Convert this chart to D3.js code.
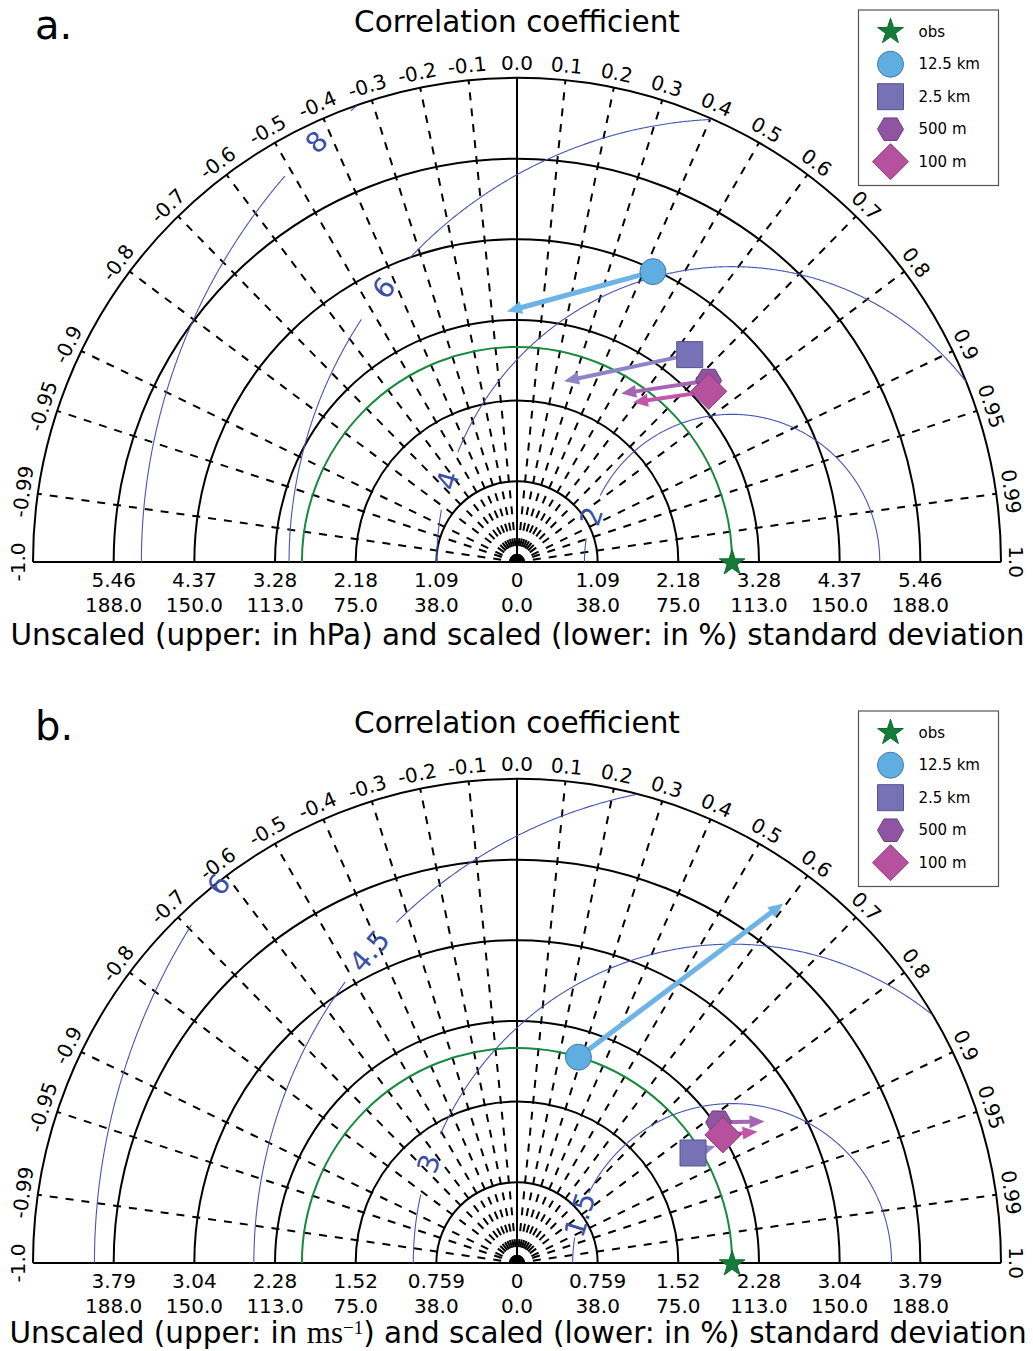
<!DOCTYPE html>
<html>
<head>
<meta charset="utf-8">
<script src="https://cdn.jsdelivr.net/npm/d3@7"></script>
<style>
  body { margin: 0; background: #fff; }
  text { font-family: "DejaVu Sans", sans-serif; }
</style>
</head>
<body>
<div id="chart"></div>
<script>
const W = 1033, H = 1351;

// correlation grid (shared by both panels)
const corrTicks = [-1.0, -0.99, -0.95, -0.9, -0.8, -0.7, -0.6, -0.5, -0.4, -0.3, -0.2, -0.1,
  0.0, 0.1, 0.2, 0.3, 0.4, 0.5, 0.6, 0.7, 0.8, 0.9, 0.95, 0.99, 1.0];
const corrLabels = ["-1.0", "-0.99", "-0.95", "-0.9", "-0.8", "-0.7", "-0.6", "-0.5", "-0.4", "-0.3", "-0.2", "-0.1",
  "0.0", "0.1", "0.2", "0.3", "0.4", "0.5", "0.6", "0.7", "0.8", "0.9", "0.95", "0.99", "1.0"];
const pctLabels = ["38.0", "75.0", "113.0", "150.0", "188.0"];

const models = ["12.5 km", "2.5 km", "500 m", "100 m"];
const shapes = ["circle", "square", "hexagon", "diamond"];
const fillColors = ["#5fade1", "#7772b5", "#8f55a3", "#b5519f"];
const edgeColors = ["#3f7ba6", "#57528f", "#6c3d7e", "#8a3a78"];
const arrowColors = ["#6bb4e5", "#8b85c7", "#a565b4", "#c257aa"];

// panel a: surface pressure (hPa)
const stdTicksA = [1.0925, 2.185, 3.2775, 4.37, 5.4625];
const stdLabelsA = ["1.09", "2.18", "3.28", "4.37", "5.46"];
const stdMaxA = 6.555;
const obsStdA = 2.913;
const stdA = [4.342, 3.655, 3.574, 3.476];
const corrA = [0.424, 0.640, 0.726, 0.747];
const stdEndA = [3.396, 2.529, 2.682, 2.672];
const corrEndA = [-0.040, 0.252, 0.526, 0.588];
const rmsLevelsA = [2, 4, 6, 8];

// panel b: wind speed (m/s)
const stdTicksB = [0.759, 1.518, 2.277, 3.036, 3.795];
const stdLabelsB = ["0.759", "1.52", "2.28", "3.04", "3.79"];
const stdMaxB = 4.554;
const obsStdB = 2.024;
const stdB = [2.021, 1.953, 2.314, 2.281];
const corrB = [0.286, 0.848, 0.820, 0.849];
const stdEndB = [4.209, 2.165, 2.683, 2.579];
const corrEndB = [0.595, 0.862, 0.868, 0.878];
const rmsLevelsB = [1.5, 3, 4.5, 6];

const R = 484, cx = 517;

const svg = d3.select("#chart").append("svg")
  .attr("width", W)
  .attr("height", H);

function markerPath(shape) {
  const p = d3.path();
  if (shape === "circle") {
    p.arc(0, 0, 13, 0, 2 * Math.PI);
  } else if (shape === "square") {
    p.rect(-13, -13, 26, 26);
  } else if (shape === "hexagon") {
    for (let i = 0; i < 6; i++) {
      const a = i * Math.PI / 3;
      i ? p.lineTo(13 * Math.cos(a), 13 * Math.sin(a)) : p.moveTo(13, 0);
    }
    p.closePath();
  } else if (shape === "diamond") {
    p.moveTo(0, -18); p.lineTo(18, 0); p.lineTo(0, 18); p.lineTo(-18, 0); p.closePath();
  } else if (shape === "star") {
    for (let i = 0; i < 10; i++) {
      const rr = i % 2 ? 5.2 : 13.5;
      const a = -Math.PI / 2 + i * Math.PI / 5;
      i ? p.lineTo(rr * Math.cos(a), rr * Math.sin(a)) : p.moveTo(rr * Math.cos(a), rr * Math.sin(a));
    }
    p.closePath();
  }
  return p.toString();
}

function arrowPath(p0, p1, w, hw, hl) {
  const dx = p1[0] - p0[0], dy = p1[1] - p0[1], L = Math.hypot(dx, dy);
  const ux = dx / L, uy = dy / L, nx = -uy, ny = ux;
  const b = [p1[0] - ux * hl, p1[1] - uy * hl];
  const pts = [
    [p0[0] + nx * w / 2, p0[1] + ny * w / 2],
    [b[0] + nx * w / 2, b[1] + ny * w / 2],
    [b[0] + nx * hw / 2, b[1] + ny * hw / 2],
    p1,
    [b[0] - nx * hw / 2, b[1] - ny * hw / 2],
    [b[0] - nx * w / 2, b[1] - ny * w / 2],
    [p0[0] - nx * w / 2, p0[1] - ny * w / 2]];
  return "M" + pts.map(p => p.join(",")).join("L") + "Z";
}

function drawPanel(cfg) {
  const g = svg.append("g").attr("transform", `translate(${cx},${cfg.cy})`);
  const r = d3.scaleLinear().domain([0, cfg.stdMax]).range([0, R]);
  const pt = (s, c) => {
    const a = Math.acos(c);
    return [r(s) * Math.cos(a), -r(s) * Math.sin(a)];
  };

  // std arcs
  const arcs = cfg.stdTicks.map(t => r(t)).concat([R]);
  g.selectAll(".sarc").data(arcs).enter().append("path")
    .attr("d", d => { const p = d3.path(); p.arc(0, 0, d, Math.PI, 2 * Math.PI); return p.toString(); })
    .attr("fill", "none").attr("stroke", "#000").attr("stroke-width", 2);

  // correlation rays
  g.selectAll(".ray").data(corrTicks.filter(c => Math.abs(c) < 1)).enter().append("line")
    .attr("x1", 0).attr("y1", 0)
    .attr("x2", d => pt(cfg.stdMax, d)[0])
    .attr("y2", d => pt(cfg.stdMax, d)[1])
    .attr("stroke", "#000")
    .attr("stroke-width", 2)
    .attr("stroke-dasharray", d => d === 0 ? null : "8,8");

  g.append("line").attr("x1", -R).attr("x2", R).attr("y1", 0).attr("y2", 0)
    .attr("stroke", "#000").attr("stroke-width", 2);

  // correlation labels
  g.selectAll(".clab").data(corrTicks).enter().append("text")
    .attr("transform", d => {
      const a = Math.acos(d);
      const x = (R + 15) * Math.cos(a), y = -(R + 15) * Math.sin(a);
      return `translate(${x},${y}) rotate(${90 - a * 180 / Math.PI})`;
    })
    .attr("text-anchor", "middle")
    .attr("dominant-baseline", "central")
    .attr("font-size", 20)
    .text((d, i) => corrLabels[i]);

  // std tick labels
  const ticks = [0].concat(cfg.stdTicks);
  const lab1 = ["0"].concat(cfg.stdLabels), lab2 = ["0.0"].concat(pctLabels);
  [-1, 1].forEach(sgn => {
    g.selectAll(null).data(ticks).enter().append("text")
      .filter((d, i) => sgn === 1 || i > 0)
      .attr("x", d => sgn * r(d)).attr("y", 25)
      .attr("text-anchor", "middle").attr("font-size", 20)
      .text(d => lab1[ticks.indexOf(d)]);
    g.selectAll(null).data(ticks).enter().append("text")
      .filter((d, i) => sgn === 1 || i > 0)
      .attr("x", d => sgn * r(d)).attr("y", 49.5)
      .attr("text-anchor", "middle").attr("font-size", 20)
      .text(d => lab2[ticks.indexOf(d)]);
  });

  // RMSD contours around the obs point
  const ox = r(cfg.obs);
  cfg.levels.forEach((L, k) => {
    const rl = r(L);
    const thL = cfg.labelAng[k] * Math.PI / 180;
    const half = (15 + 0.05 * rl) / rl;
    const pts = d3.range(0, 180.001, 0.2).map(deg => {
      const th = deg * Math.PI / 180;
      const x = ox + rl * Math.cos(th), y = -rl * Math.sin(th);
      const ok = Math.hypot(x, y) <= R && Math.abs(th - thL) > half;
      return [x, y, ok];
    });
    g.append("path")
      .attr("d", d3.line().defined(d => d[2])(pts))
      .attr("fill", "none").attr("stroke", "#4656b5").attr("stroke-width", 1.1);
    const lx = ox + rl * Math.cos(thL), ly = -rl * Math.sin(thL);
    const rot = cfg.labelAng[k] - 90;
    g.append("text")
      .attr("transform", `translate(${lx},${ly}) rotate(${-rot})`)
      .attr("text-anchor", "middle").attr("dominant-baseline", "central")
      .attr("font-size", 28).attr("fill", "#3c4fa6")
      .text(String(L));
  });

  // obs std arc
  g.append("path")
    .attr("d", () => { const p = d3.path(); p.arc(0, 0, ox, Math.PI, 2 * Math.PI); return p.toString(); })
    .attr("fill", "none").attr("stroke", "#168a3e").attr("stroke-width", 2);

  // arrows then markers
  models.forEach((m, i) => {
    const p0 = pt(cfg.std[i], cfg.corr[i]), p1 = pt(cfg.std2[i], cfg.corr2[i]);
    g.append("path").attr("d", arrowPath(p0, p1, i === 0 ? 5 : 4, 13, 15))
      .attr("fill", arrowColors[i]);
  });
  models.forEach((m, i) => {
    const p0 = pt(cfg.std[i], cfg.corr[i]);
    g.append("path").attr("d", markerPath(shapes[i]))
      .attr("transform", `translate(${p0[0]},${p0[1]})`)
      .attr("fill", fillColors[i]).attr("stroke", edgeColors[i]).attr("stroke-width", 1);
  });
  g.append("path").attr("d", markerPath("star"))
    .attr("transform", `translate(${ox},1)`)
    .attr("fill", "#137c38").attr("stroke", "#0e6a2f").attr("stroke-width", 1);

  // titles
  g.append("text").attr("x", 0).attr("y", 32 - 562).attr("text-anchor", "middle")
    .attr("font-size", 29.5).text("Correlation coefficient");
  g.append("text").attr("x", 35 - cx).attr("y", 39 - 562)
    .attr("font-size", 40).text(cfg.letter);

  const xl = g.append("text").attr("x", cfg.xlabX - cx).attr("y", cfg.xlabY)
    .attr("text-anchor", "middle").attr("font-size", 29.5);
  cfg.xlabel(xl);

  // legend
  const lg = g.append("g").attr("transform", `translate(${858.5 - cx},${10 - 562})`);
  lg.append("rect").attr("width", 140).attr("height", 175.5)
    .attr("fill", "#fff").attr("stroke", "#555").attr("stroke-width", 1.2);
  const entries = [{ name: "obs", shape: "star", fill: "#137c38", edge: "#0e6a2f" }]
    .concat(models.map((m, i) => ({ name: m, shape: shapes[i], fill: fillColors[i], edge: edgeColors[i] })));
  entries.forEach((e, i) => {
    const y = 21.7 + i * 32.5;
    lg.append("path").attr("d", markerPath(e.shape))
      .attr("transform", `translate(32,${y})`)
      .attr("fill", e.fill).attr("stroke", e.edge).attr("stroke-width", 1);
    lg.append("text").attr("x", 60).attr("y", y).attr("dominant-baseline", "central")
      .attr("font-size", 15).text(e.name);
  });
}

drawPanel({
  letter: "a.", cy: 562, stdTicks: stdTicksA, stdLabels: stdLabelsA, stdMax: stdMaxA,
  obs: obsStdA, std: stdA, corr: corrA, std2: stdEndA, corr2: corrEndA,
  levels: rmsLevelsA, labelAng: [162, 164, 141.8, 134.7],
  xlabX: 517.5, xlabY: 83,
  xlabel: t => t.text("Unscaled (upper: in hPa) and scaled (lower: in %) standard deviation")
});

drawPanel({
  letter: "b.", cy: 1263, stdTicks: stdTicksB, stdLabels: stdLabelsB, stdMax: stdMaxB,
  obs: obsStdB, std: stdB, corr: corrB, std2: stdEndB, corr2: corrEndB,
  levels: rmsLevelsB, labelAng: [162.4, 161.9, 139.3, 143.6],
  xlabX: 518, xlabY: 80,
  xlabel: t => {
    t.append("tspan").text("Unscaled (upper: in ");
    t.append("tspan").attr("font-family", "'Liberation Serif', 'DejaVu Serif', serif").attr("font-size", 31).text("ms");
    t.append("tspan").attr("font-family", "'Liberation Serif', 'DejaVu Serif', serif").attr("font-size", 19).attr("dy", -9).text("\u22121");
    t.append("tspan").attr("dy", 9).text(") and scaled (lower: in %) standard deviation");
  }
});
</script>
</body>
</html>
